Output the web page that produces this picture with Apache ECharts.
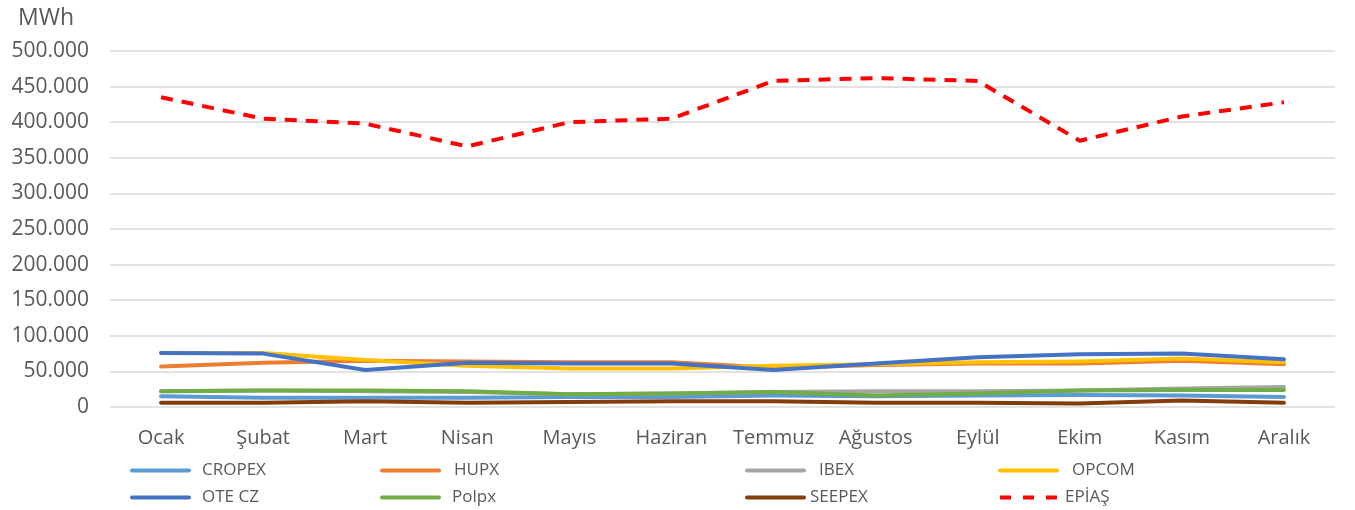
<!DOCTYPE html>
<html>
<head>
<meta charset="utf-8">
<script src="https://cdn.jsdelivr.net/npm/echarts@6/dist/echarts.min.js"></script>
<style>
  html, body { margin: 0; padding: 0; background: #fff; }
  #chart { width: 1355px; height: 510px; }
</style>
</head>
<body>
<div id="chart"></div>
<script>
var months = ['Ocak', 'Şubat', 'Mart', 'Nisan', 'Mayıs', 'Haziran', 'Temmuz', 'Ağustos', 'Eylül', 'Ekim', 'Kasım', 'Aralık'];

var cropex = [15000, 13000, 13000, 13000, 14000, 14000, 16000, 15000, 16000, 17000, 16000, 14000];
var hupx   = [57000, 62000, 65000, 64000, 63000, 63000, 55000, 59000, 61000, 61000, 65000, 60000];
var ibex   = [22000, 23000, 22000, 21000, 18000, 19000, 21000, 22000, 22000, 23000, 26000, 28000];
var opcom  = [76000, 76000, 66000, 58000, 54000, 54000, 58000, 60000, 63000, 64000, 68000, 63000];
var oteCz  = [76000, 75000, 52000, 62000, 61000, 61000, 52000, 61000, 70000, 74000, 75000, 67000];
var polpx  = [22000, 23000, 23000, 22000, 18000, 19000, 21000, 16000, 19000, 23000, 24000, 24000];
var seepex = [6000, 6000, 8000, 6000, 7000, 8000, 8000, 6000, 6000, 5000, 9000, 6000];
var epias  = [435000, 405000, 398000, 366000, 400000, 405000, 458000, 462000, 458000, 374000, 408000, 428000];

var seriesNames = ['CROPEX', 'HUPX', 'IBEX', 'OPCOM', 'OTE CZ', 'Polpx', 'SEEPEX', 'EPİAŞ'];
var seriesData = [cropex, hupx, ibex, opcom, oteCz, polpx, seepex, epias];
var seriesColors = ['#5B9BD5', '#ED7D31', '#A5A5A5', '#FFC000', '#4472C4', '#70AD47', '#843C0C', '#FF0000'];

var FONT = 'Open Sans';
var GREY = '#595959';

// legend spots: [left, top, text padding]
var legendSpots = [
    [130, 462, 8], [380, 462, 10], [745, 462, 10], [998, 462, 10],
    [130, 489, 8], [380, 489, 8], [745, 489, 1], [998, 489, 3]
];
var legendOrder = ['CROPEX', 'HUPX', 'IBEX', 'OPCOM', 'OTE CZ', 'Polpx', 'SEEPEX', 'EPİAŞ'];

function fmt(v) {
    return String(v).replace(/\B(?=(\d{3})+(?!\d))/g, '.');
}

var series = seriesNames.map(function (name, i) {
    var dashed = name === 'EPİAŞ';
    return {
        name: name,
        type: 'line',
        data: seriesData[i],
        symbol: 'none',
        color: seriesColors[i],
        lineStyle: {
            width: 4,
            color: seriesColors[i],
            type: dashed ? [12, 9] : 'solid',
            cap: dashed ? 'butt' : 'round',
            join: 'round'
        },
        z: 2 + i
    };
});

var legends = legendOrder.map(function (name, i) {
    var s = legendSpots[i];
    var dashed = name === 'EPİAŞ';
    return {
        data: [name],
        left: s[0],
        top: s[1],
        padding: 0,
        itemWidth: 57,
        itemHeight: 20,
        itemStyle: { opacity: 0 },
        lineStyle: { width: 4, cap: dashed ? 'butt' : 'round', type: dashed ? [11, 12] : 'solid' },
        textStyle: {
            fontFamily: FONT,
            fontSize: 17,
            color: GREY,
            padding: [0, 0, 0, s[2]]
        }
    };
});

var chart = echarts.init(document.getElementById('chart'));
chart.setOption({
    backgroundColor: '#fff',
    animation: false,
    title: {
        text: 'MWh',
        left: 13,
        top: 2,
        textStyle: { fontFamily: FONT, fontSize: 23, fontWeight: 'normal', color: GREY }
    },
    legend: legends,
    grid: { left: 110, right: 20, top: 51, bottom: 103 },
    xAxis: {
        type: 'category',
        data: months,
        boundaryGap: true,
        axisLine: { show: false },
        axisTick: { show: false },
        axisLabel: { fontFamily: FONT, fontSize: 20, color: GREY, margin: 21, interval: 0, hideOverlap: false }
    },
    yAxis: {
        type: 'value',
        min: 0,
        max: 500000,
        interval: 50000,
        axisLine: { show: false },
        axisTick: { show: false },
        splitLine: { lineStyle: { color: '#D9D9D9', width: 1.5 } },
        axisLabel: {
            fontFamily: FONT, fontSize: 21, color: GREY, margin: 21,
            formatter: fmt
        }
    },
    series: series
});
</script>
</body>
</html>
